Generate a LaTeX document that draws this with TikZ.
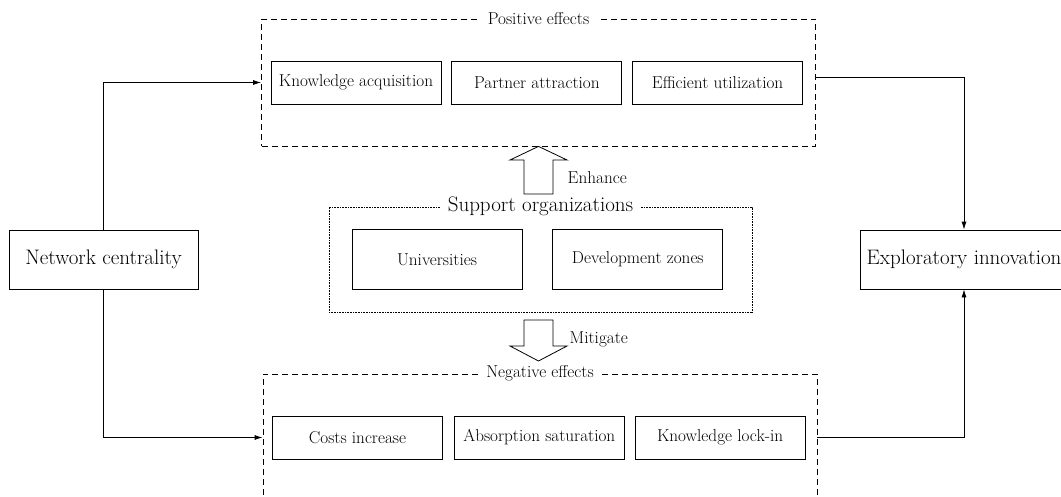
\documentclass[tikz,border=0pt]{standalone}
\usepackage{fontspec}
\usetikzlibrary{arrows.meta,positioning}

\begin{document}
\begin{tikzpicture}[x=1pt,y=-1pt,line width=.8pt,>={Latex[length=8pt,width=5pt]},
  small text/.style={font=\fontsize{17.2}{20}\selectfont},
  large text/.style={font=\fontsize{21}{25}\selectfont},
  item node/.style={draw,rectangle,minimum width=170pt,minimum height=43pt,inner sep=0pt,small text},
  main node/.style={draw,rectangle,minimum height=59pt,inner sep=0pt,large text},
  group box/.style={draw,rectangle,dash pattern=on 6pt off 4pt,minimum width=554pt,minimum height=127pt,inner sep=0pt},
  group title/.style={fill=white,inner xsep=8pt,inner ysep=1pt,small text},
  block arrow/.style={draw,fill=white,line join=miter}]
  \clip (0,0) rectangle (1061,496);

  \node[main node, minimum width=189pt] (nc) at (103.5,259.5) {Network centrality};
  \node[main node, minimum width=208pt] (ei) at (964,259.5) {Exploratory innovation};

  % positive effects
  \node[group box] (pos) at (538.5,82.5) {};
  \node[group title] at (pos.north) {Positive effects};
  \node[item node] (ka) at (356,82.5) {Knowledge acquisition};
  \node[item node] (pa) [right=10pt of ka] {Partner attraction};
  \node[item node] (eu) [right=10pt of pa] {Efficient utilization};

  % support organizations
  \node[draw,rectangle,line width=.6pt,dash pattern=on .8pt off .8pt,minimum width=423pt,minimum height=105pt] (sup) at (540.5,259.5) {};
  \node[group title,large text] at (sup.north) {Support organizations};
  \node[item node, minimum height=60pt] (uni) at (437,259.5) {Universities};
  \node[item node, minimum height=60pt] (dz) [right=30pt of uni] {Development zones};

  % negative effects
  \node[group box] (neg) at (540,437.5) {};
  \node[group title] at (neg.north) {Negative effects};
  \node[item node] (ci) at (357.5,437.5) {Costs increase};
  \node[item node] (as) [right=11pt of ci] {Absorption saturation};
  \node[item node] (kl) [right=10pt of as] {Knowledge lock-in};

  % moderating arrows
  \draw[block arrow] (524,194) -- (524,160) -- (510,160) -- (pos.south) -- (567,160) -- (553,160) -- (553,194) -- cycle;
  \node[small text,anchor=west] (enh) at (564,178) {Enhance};
  \draw[block arrow] (524,320) -- (524,346) -- (510,346) -- (538.5,361) -- (567,346) -- (553,346) -- (553,320) -- cycle;
  \node[small text,anchor=west] (mit) at (566,339) {Mitigate};

  \draw[->] (nc.north) |- (pos.west);
  \draw[->] (nc.south) |- (neg.west);
  \draw[->] ([yshift=5pt]pos.east) -| (ei.north);
  \draw[->] (neg.east) -| (ei.south);
\end{tikzpicture}
\end{document}
